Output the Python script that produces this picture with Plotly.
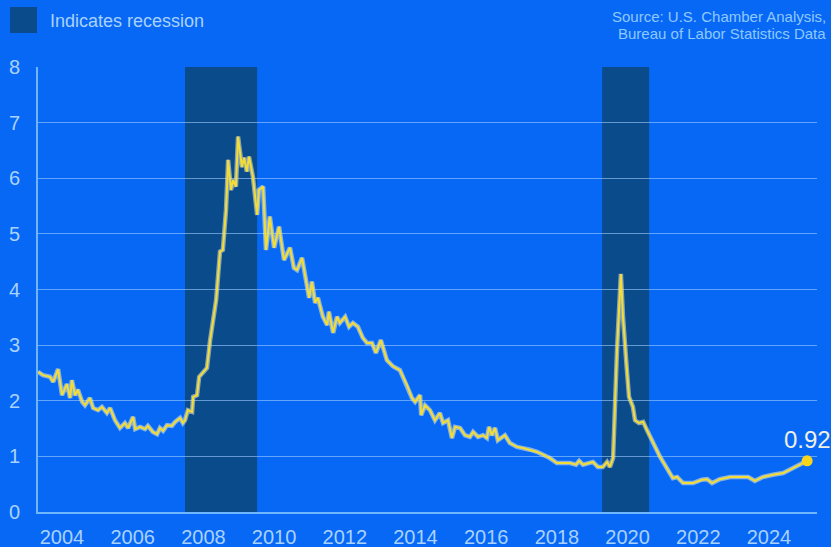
import plotly.graph_objects as go

# ---- data (decimal year, ratio) ----
years = [
    2003.32, 2003.46, 2003.66, 2003.75, 2003.89, 2004.00, 2004.14, 2004.23, 2004.28, 2004.37,
    2004.45, 2004.57, 2004.65, 2004.79, 2004.88, 2005.02, 2005.13, 2005.27, 2005.36, 2005.50,
    2005.64, 2005.78, 2005.87, 2006.01, 2006.07, 2006.21, 2006.35, 2006.43, 2006.57, 2006.69,
    2006.77, 2006.86, 2006.97, 2007.11, 2007.20, 2007.34, 2007.42, 2007.48, 2007.56, 2007.68,
    2007.71, 2007.82, 2007.88, 2007.99, 2008.10, 2008.19, 2008.27, 2008.36, 2008.47, 2008.55,
    2008.64, 2008.70, 2008.78, 2008.84, 2008.92, 2008.98, 2009.09, 2009.15, 2009.23, 2009.29,
    2009.40, 2009.52, 2009.57, 2009.69, 2009.77, 2009.88, 2010.00, 2010.14, 2010.28, 2010.45,
    2010.56, 2010.65, 2010.79, 2010.93, 2010.99, 2011.07, 2011.16, 2011.24, 2011.38, 2011.50,
    2011.55, 2011.67, 2011.78, 2011.86, 2012.01, 2012.12, 2012.23, 2012.37, 2012.51, 2012.63,
    2012.77, 2012.88, 2013.02, 2013.19, 2013.36, 2013.56, 2013.76, 2013.90, 2013.99, 2014.13,
    2014.16, 2014.27, 2014.41, 2014.55, 2014.69, 2014.78, 2014.92, 2015.03, 2015.12, 2015.26,
    2015.40, 2015.54, 2015.63, 2015.77, 2015.91, 2016.02, 2016.08, 2016.16, 2016.25, 2016.33,
    2016.53, 2016.67, 2016.87, 2017.04, 2017.24, 2017.44, 2017.61, 2017.80, 2018.00, 2018.17,
    2018.37, 2018.54, 2018.63, 2018.74, 2018.94, 2019.02, 2019.16, 2019.30, 2019.42, 2019.50,
    2019.59, 2019.70, 2019.81, 2019.87, 2019.98, 2020.04, 2020.15, 2020.21, 2020.32, 2020.44,
    2020.55, 2020.72, 2020.92, 2021.11, 2021.28, 2021.40, 2021.57, 2021.85, 2022.10, 2022.25,
    2022.39, 2022.61, 2022.90, 2023.18, 2023.41, 2023.60, 2023.83, 2024.11, 2024.40, 2024.68,
    2024.88, 2025.08,
]
values = [
    2.52, 2.46, 2.43, 2.34, 2.57, 2.10, 2.30, 2.05, 2.37, 2.10,
    2.20, 1.98, 1.92, 2.05, 1.87, 1.83, 1.89, 1.78, 1.87, 1.65,
    1.51, 1.60, 1.51, 1.71, 1.49, 1.53, 1.49, 1.55, 1.44, 1.40,
    1.51, 1.46, 1.56, 1.55, 1.62, 1.69, 1.60, 1.65, 1.83, 1.80,
    2.07, 2.10, 2.43, 2.52, 2.59, 3.09, 3.45, 3.81, 4.68, 4.71,
    5.43, 6.33, 5.79, 5.97, 5.85, 6.75, 6.20, 6.37, 6.12, 6.39,
    6.03, 5.34, 5.79, 5.85, 4.71, 5.31, 4.75, 5.13, 4.53, 4.75,
    4.39, 4.35, 4.57, 4.05, 3.85, 4.14, 3.76, 3.85, 3.51, 3.36,
    3.60, 3.22, 3.51, 3.40, 3.51, 3.33, 3.40, 3.33, 3.13, 3.04,
    3.04, 2.86, 3.09, 2.73, 2.62, 2.55, 2.28, 2.05, 1.98, 2.10,
    1.74, 1.92, 1.83, 1.65, 1.78, 1.60, 1.65, 1.33, 1.53, 1.51,
    1.38, 1.35, 1.44, 1.35, 1.38, 1.33, 1.53, 1.38, 1.51, 1.29,
    1.38, 1.24, 1.17, 1.15, 1.12, 1.08, 1.03, 0.97, 0.88, 0.88,
    0.88, 0.85, 0.92, 0.85, 0.88, 0.90, 0.81, 0.81, 0.90, 0.81,
    0.97, 2.91, 4.28, 3.51, 2.55, 2.07, 1.89, 1.65, 1.60, 1.62,
    1.47, 1.24, 0.99, 0.79, 0.61, 0.63, 0.52, 0.52, 0.58, 0.59,
    0.52, 0.59, 0.63, 0.63, 0.63, 0.56, 0.63, 0.67, 0.70, 0.79,
    0.85, 0.92,
]
recessions = [(2007.48, 2009.52), (2019.28, 2020.61)]
tick_years = list(range(2004, 2025, 2))
y_ticks = list(range(0, 9))

# ---- style ----
BG = "#0868f6"
SHADE = "#0a4b8c"
GRID = "rgba(160,205,255,0.6)"
AXIS = "#6fb6ff"
TXT = "#a9d2ff"
FONT = "Liberation Sans, Arial, sans-serif"

fig = go.Figure()
fig.add_trace(go.Scatter(x=years, y=values, mode="lines",
                         line=dict(color="rgba(240,240,205,0.55)", width=4.5),
                         hoverinfo="skip", showlegend=False))
fig.add_trace(go.Scatter(x=years, y=values, mode="lines",
                         line=dict(color="#f4dc36", width=2),
                         showlegend=False))
fig.add_trace(go.Scatter(x=[years[-1]], y=[values[-1]], mode="markers",
                         marker=dict(color="#f7d51d", size=11),
                         showlegend=False))

for a, b in recessions:
    fig.add_shape(type="rect", xref="x", yref="y", x0=a, x1=b, y0=0, y1=8,
                  fillcolor=SHADE, line=dict(width=0), layer="below")

# legend swatch + label
fig.add_shape(type="rect", xref="paper", yref="paper",
              x0=-0.0359, x1=-0.0013, y0=1.0764, y1=1.1348,
              fillcolor=SHADE, line=dict(width=0))
fig.add_annotation(xref="paper", yref="paper", x=0.0128, y=1.1034,
                   xanchor="left", yanchor="middle", showarrow=False,
                   text="Indicates recession", font=dict(size=18, color=TXT, family=FONT))
# source
fig.add_annotation(xref="paper", yref="paper", x=1.0141, y=1.1146,
                   xanchor="right", yanchor="middle", showarrow=False,
                   text="Source: U.S. Chamber Analysis,", font=dict(size=15, color="#8ec8ff", family=FONT))
fig.add_annotation(xref="paper", yref="paper", x=1.0141, y=1.0764,
                   xanchor="right", yanchor="middle", showarrow=False,
                   text="Bureau of Labor Statistics Data", font=dict(size=15, color="#8ec8ff", family=FONT))
# last value label
fig.add_annotation(x=years[-1], y=values[-1], xanchor="center", yanchor="bottom",
                   yshift=6, showarrow=False, text=f"{values[-1]:.2f}",
                   bgcolor=BG, borderpad=1,
                   font=dict(size=24, color="#eef0e4", family=FONT))

fig.update_layout(
    width=831, height=547, autosize=False,
    margin=dict(l=38, r=14, t=67, b=35),
    paper_bgcolor=BG, plot_bgcolor=BG,
    font=dict(family=FONT, color=TXT),
    showlegend=False,
)
fig.update_xaxes(range=[2003.321, 2025.358], tickvals=tick_years,
                 ticktext=[str(y) for y in tick_years],
                 showgrid=False, zeroline=False, showline=True,
                 linecolor=AXIS, linewidth=2, ticks="", automargin=False,
                 tickfont=dict(size=20, color=TXT, family=FONT),
                 ticklabelstandoff=6)
fig.update_yaxes(range=[0, 8], tickvals=y_ticks, showgrid=True,
                 gridcolor=GRID, gridwidth=1, zeroline=False, automargin=False,
                 showline=True, linecolor=AXIS, linewidth=2, ticks="",
                 tickfont=dict(size=20, color=TXT, family=FONT),
                 ticklabelstandoff=12)

fig.write_html("out.html")
